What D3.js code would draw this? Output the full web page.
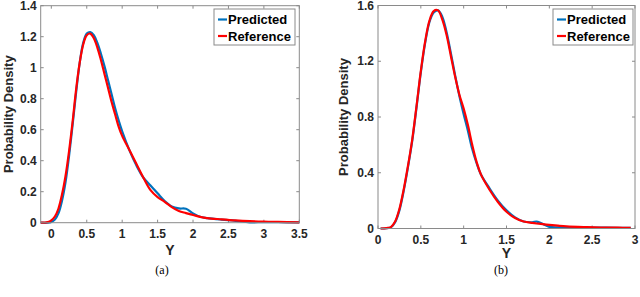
<!DOCTYPE html>
<html><head><meta charset="utf-8">
<script src="https://cdn.jsdelivr.net/npm/d3@7"></script>
<style>body{margin:0;background:#fff}svg{display:block}</style>
</head><body>
<script>
// Panel (a)
const xA = [-0.15,-0.05,0,0.05,0.1,0.15,0.2,0.25,0.3,0.35,0.4,0.45,0.5,0.55,0.6,0.65,0.7,0.75,0.8,0.85,0.9,0.95,1.0,1.1,1.2,1.3,1.4,1.5,1.6,1.7,1.8,1.9,2.0,2.1,2.2,2.4,2.6,2.8,3.0,3.2,3.5];
const refA = [0,0.004,0.015,0.04,0.09,0.18,0.30,0.46,0.65,0.86,1.03,1.15,1.21,1.22,1.19,1.13,1.05,0.96,0.87,0.78,0.70,0.62,0.56,0.47,0.38,0.29,0.21,0.165,0.135,0.10,0.075,0.062,0.05,0.038,0.03,0.022,0.015,0.01,0.007,0.005,0.002];
const predA = [0,0,0.004,0.02,0.06,0.14,0.26,0.43,0.63,0.84,1.03,1.16,1.22,1.23,1.21,1.16,1.09,1.01,0.92,0.83,0.74,0.66,0.59,0.47,0.37,0.29,0.24,0.19,0.14,0.105,0.092,0.09,0.06,0.038,0.03,0.02,0.012,0.002,0.004,0.003,0.002];
const xTicksA = [0,0.5,1,1.5,2,2.5,3,3.5];
const yTicksA = [0,0.2,0.4,0.6,0.8,1,1.2,1.4];

// Panel (b)
const xB = [0.03,0.1,0.15,0.2,0.25,0.3,0.35,0.4,0.45,0.5,0.55,0.6,0.65,0.7,0.75,0.8,0.85,0.9,0.95,1.0,1.05,1.1,1.15,1.2,1.3,1.4,1.5,1.6,1.7,1.8,1.85,1.9,2.0,2.1,2.2,2.4,2.6,2.8,2.95];
const refB = [0,0.003,0.01,0.05,0.14,0.28,0.45,0.64,0.88,1.13,1.34,1.49,1.56,1.565,1.50,1.39,1.24,1.09,0.96,0.86,0.74,0.60,0.48,0.39,0.28,0.19,0.12,0.075,0.05,0.04,0.036,0.033,0.026,0.02,0.015,0.01,0.007,0.006,0.004];
const predB = [0,0.002,0.008,0.045,0.13,0.27,0.44,0.63,0.87,1.12,1.33,1.48,1.55,1.565,1.52,1.41,1.26,1.10,0.95,0.82,0.70,0.57,0.47,0.39,0.29,0.20,0.13,0.08,0.05,0.045,0.05,0.04,0.012,0.008,0.007,0.006,0.006,0.005,0.004];
const xTicksB = [0,0.5,1,1.5,2,2.5,3];
const yTicksB = [0,0.4,0.8,1.2,1.6];

const legendLabels = ["Predicted","Reference"];
const colors = ["#0072BD","#FF0000"];

const SANS = "'Liberation Sans', Arial, Helvetica, sans-serif";
const SERIF = "'Liberation Serif', 'Times New Roman', serif";

const svg = d3.select("body").append("svg").attr("width",640).attr("height",297);

function panel(o){
  const x = d3.scaleLinear().domain(o.xd).range([o.l,o.r]);
  const y = d3.scaleLinear().domain(o.yd).range([o.b,o.t]);
  const g = svg.append("g");
  const axCol = "#8a8a8a", txt = "#262626", tl = 3;
  o.xt.forEach(v=>{
    g.append("line").attr("x1",x(v)).attr("x2",x(v)).attr("y1",o.b).attr("y2",o.b-tl).attr("stroke",axCol);
    g.append("line").attr("x1",x(v)).attr("x2",x(v)).attr("y1",o.t).attr("y2",o.t+tl).attr("stroke",axCol);
    g.append("text").attr("x",x(v)).attr("y",o.b+15).attr("text-anchor","middle")
      .style("font-family",SANS).attr("font-weight","bold").attr("font-size",12).attr("fill",txt).text(d3.format("~g")(v));
  });
  o.yt.forEach(v=>{
    g.append("line").attr("x1",o.l).attr("x2",o.l+tl).attr("y1",y(v)).attr("y2",y(v)).attr("stroke",axCol);
    g.append("line").attr("x1",o.r).attr("x2",o.r-tl).attr("y1",y(v)).attr("y2",y(v)).attr("stroke",axCol);
    g.append("text").attr("x",o.l-4).attr("y",y(v)+4).attr("text-anchor","end")
      .style("font-family",SANS).attr("font-weight","bold").attr("font-size",12).attr("fill",txt).text(d3.format("~g")(v));
  });
  const line = d3.line().x(d=>x(d[0])).y(d=>y(d[1])).curve(d3.curveCatmullRom.alpha(0.5));
  g.append("path").attr("d",line(o.xs.map((v,i)=>[v,o.pred[i]]))).attr("fill","none").attr("stroke",colors[0]).attr("stroke-width",2.2);
  g.append("path").attr("d",line(o.xs.map((v,i)=>[v,o.ref[i]]))).attr("fill","none").attr("stroke",colors[1]).attr("stroke-width",2.2);
  g.append("rect").attr("x",o.l).attr("y",o.t).attr("width",o.r-o.l).attr("height",o.b-o.t).attr("fill","none").attr("stroke",axCol);
  const lg = g.append("g");
  lg.append("rect").attr("x",o.lx).attr("y",9).attr("width",o.lw).attr("height",36).attr("fill","#fff").attr("stroke",axCol);
  legendLabels.forEach((s,i)=>{
    const yy = 19.5 + i*16.5;
    lg.append("line").attr("x1",o.lx+4).attr("x2",o.lx+13).attr("y1",yy).attr("y2",yy).attr("stroke",colors[i]).attr("stroke-width",2.2);
    lg.append("text").attr("x",o.lx+14).attr("y",yy+4.5).style("font-family",SANS)
      .attr("font-weight","bold").attr("font-size",13).attr("fill","#000").text(s);
  });
  g.append("text").attr("transform",`translate(${o.yl},${(o.t+o.b)/2}) rotate(-90)`).attr("text-anchor","middle")
    .style("font-family",SANS).attr("font-weight","bold").attr("font-size",13).attr("fill",txt).text("Probability Density");
  g.append("text").attr("x",(o.l+o.r)/2).attr("y",o.yb).attr("text-anchor","middle")
    .style("font-family",SANS).attr("font-weight","bold").attr("font-size",14).attr("fill",txt).text("Y");
  g.append("text").attr("x",o.cap).attr("y",274).attr("text-anchor","middle")
    .style("font-family",SERIF).attr("font-size",12).attr("fill","#000").text(o.label);
}

panel({xd:[-0.15,3.5], yd:[0,1.4], l:40.7, r:299.3, t:5.7, b:222.7, xs:xA, ref:refA, pred:predA, xt:xTicksA, yt:yTicksA, lx:214, lw:81, yl:12.5, yb:255, cap:162, label:"(a)"});
panel({xd:[0,3], yd:[0,1.6], l:378, r:635, t:5.5, b:228.5, xs:xB, ref:refB, pred:predB, xt:xTicksB, yt:yTicksB, lx:553, lw:80, yl:347.5, yb:258, cap:501, label:"(b)"});
</script>
</body></html>
